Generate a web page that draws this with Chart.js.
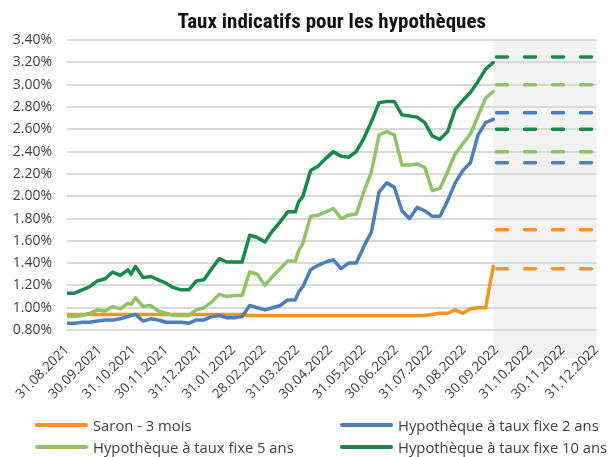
<!DOCTYPE html>
<html>
<head>
<meta charset="utf-8">
<script src="https://cdn.jsdelivr.net/npm/chart.js@4/dist/chart.umd.min.js"></script>
<style>
  html, body { margin: 0; padding: 0; background: #fff; }
  #wrap { position: relative; width: 612px; height: 457px; }
  #c { position: absolute; left: 0; top: 0; }
  #legend { position: absolute; left: 35px; top: 414px; display: grid; grid-template-columns: 305px auto; row-gap: 0px;
            font-family: 'Open Sans', 'Noto Sans', sans-serif; font-size: 14.8px; color: #404040; }
  #legend .item { display: flex; align-items: center; height: 22px; white-space: nowrap; }
  #legend .sw { display: inline-block; width: 53px; height: 4px; border-radius: 2px; margin-right: 5px; }
</style>
</head>
<body>
<div id="wrap">
  <canvas id="c" width="612" height="457"></canvas>
  <div id="legend"></div>
</div>
<script>
// ---- data ----
const chartTitle = "Taux indicatifs pour les hypothèques";
const dates = [
  "31.08.2021","07.09.2021","14.09.2021","21.09.2021","28.09.2021",
  "05.10.2021","12.10.2021","19.10.2021","26.10.2021","29.10.2021",
  "02.11.2021","09.11.2021","16.11.2021","23.11.2021","30.11.2021",
  "07.12.2021","14.12.2021","21.12.2021","28.12.2021",
  "04.01.2022","11.01.2022","18.01.2022","25.01.2022",
  "01.02.2022","08.02.2022","15.02.2022","22.02.2022",
  "01.03.2022","08.03.2022","15.03.2022","22.03.2022","29.03.2022","01.04.2022",
  "05.04.2022","12.04.2022","19.04.2022","26.04.2022",
  "03.05.2022","10.05.2022","17.05.2022","24.05.2022","31.05.2022",
  "07.06.2022","14.06.2022","21.06.2022","28.06.2022",
  "05.07.2022","12.07.2022","19.07.2022","26.07.2022",
  "02.08.2022","09.08.2022","16.08.2022","23.08.2022","30.08.2022",
  "06.09.2022","13.09.2022","20.09.2022","27.09.2022"
];
const saron = [
  0.94,0.94,0.94,0.94,0.94,
  0.94,0.94,0.94,0.94,0.94,
  0.94,0.94,0.94,0.94,0.94,
  0.94,0.94,0.94,0.94,
  0.94,0.94,0.94,0.94,
  0.94,0.94,0.93,0.93,
  0.93,0.93,0.93,0.93,0.93,0.93,
  0.93,0.93,0.93,0.93,
  0.93,0.93,0.93,0.93,0.93,
  0.93,0.93,0.93,0.93,
  0.93,0.93,0.93,0.93,
  0.94,0.95,0.95,0.98,0.95,
  0.99,1.00,1.00,1.37
];
const fixe2 = [
  0.86,0.86,0.87,0.87,0.88,
  0.89,0.89,0.90,0.92,0.93,
  0.94,0.88,0.90,0.89,0.87,
  0.87,0.87,0.86,0.89,
  0.89,0.92,0.93,0.91,
  0.91,0.92,1.02,1.00,
  0.98,1.00,1.02,1.07,1.07,1.14,
  1.19,1.34,1.38,1.41,
  1.43,1.35,1.40,1.40,1.55,
  1.68,2.04,2.12,2.08,
  1.87,1.80,1.90,1.87,
  1.82,1.82,1.96,2.12,2.23,
  2.30,2.55,2.66,2.69
];
const fixe5 = [
  0.92,0.92,0.93,0.95,0.98,
  0.97,1.01,0.99,1.04,1.03,
  1.09,1.01,1.02,0.97,0.95,
  0.93,0.93,0.93,0.98,
  1.00,1.05,1.12,1.10,
  1.11,1.11,1.32,1.30,
  1.20,1.28,1.35,1.42,1.42,1.51,
  1.58,1.82,1.83,1.86,
  1.89,1.80,1.83,1.84,2.04,
  2.22,2.55,2.58,2.55,
  2.28,2.28,2.29,2.26,
  2.05,2.07,2.22,2.38,2.47,
  2.56,2.72,2.88,2.94
];
const fixe10 = [
  1.13,1.13,1.16,1.19,1.24,
  1.26,1.32,1.29,1.34,1.30,
  1.37,1.27,1.28,1.25,1.22,
  1.18,1.16,1.16,1.24,
  1.25,1.35,1.44,1.41,
  1.41,1.41,1.65,1.63,
  1.59,1.69,1.77,1.86,1.86,1.95,
  2.00,2.23,2.27,2.34,
  2.40,2.36,2.35,2.40,2.52,
  2.67,2.84,2.85,2.85,
  2.73,2.72,2.71,2.66,
  2.54,2.51,2.58,2.78,2.86,
  2.93,3.03,3.14,3.20
];
// forecast ranges (low, high) from 30.09.2022 to 31.12.2022
const forecastDates = ["30.09.2022", "31.12.2022"];
const forecastSaron = [1.35, 1.70];
const forecastFixe2 = [2.30, 2.75];
const forecastFixe5 = [2.40, 3.00];
const forecastFixe10 = [2.60, 3.25];
const xTickLabels = ["31.08.2021","30.09.2021","31.10.2021","30.11.2021","31.12.2021","31.01.2022","28.02.2022",
  "31.03.2022","30.04.2022","31.05.2022","30.06.2022","31.07.2022","31.08.2022","30.09.2022","31.10.2022",
  "30.11.2022","31.12.2022"];
const yTicks = [0.80,1.00,1.20,1.40,1.60,1.80,2.00,2.20,2.40,2.60,2.80,3.00,3.20,3.40];
const seriesNames = ["Saron - 3 mois","Hypothèque à taux fixe 2 ans","Hypothèque à taux fixe 5 ans","Hypothèque à taux fixe 10 ans"];
const shadeStart = "27.09.2022";

// ---- helpers ----
function dayIndex(s) {
  const [d, m, y] = s.split('.').map(Number);
  return Math.round((Date.UTC(y, m - 1, d) - Date.UTC(2021, 7, 31)) / 86400000);
}
const colors = ['#F7931E', '#4C7EBB', '#8DC465', '#168A46'];
const seriesData = [saron, fixe2, fixe5, fixe10];
const forecasts = [forecastSaron, forecastFixe2, forecastFixe5, forecastFixe10];
const xLabelByDay = {};
xTickLabels.forEach(l => { xLabelByDay[dayIndex(l)] = l; });

const datasets = [];
seriesData.forEach((vals, i) => {
  datasets.push({
    label: seriesNames[i],
    data: vals.map((v, k) => ({ x: dayIndex(dates[k]), y: v })),
    borderColor: colors[i], backgroundColor: colors[i],
    borderWidth: 3.5, pointRadius: 0, tension: 0,
    borderJoinStyle: 'round', borderCapStyle: 'round', order: 4 - i
  });
});
forecasts.forEach((pair, i) => {
  pair.forEach(v => {
    datasets.push({
      label: seriesNames[i] + ' (prévision)',
      data: forecastDates.map(d => ({ x: dayIndex(d), y: v })),
      borderColor: colors[i], borderWidth: 3.5, pointRadius: 0,
      borderDash: [11, 17], borderCapStyle: 'round'
    });
  });
});

const shadePlugin = {
  id: 'forecastShade',
  beforeDraw(chart) {
    const { ctx, chartArea, scales } = chart;
    const x0 = scales.x.getPixelForValue(dayIndex(shadeStart));
    ctx.save();
    ctx.fillStyle = '#f2f2f2';
    ctx.fillRect(x0, chartArea.top - 1, chartArea.right - x0, chartArea.bottom + 28 - chartArea.top + 1);
    ctx.restore();
  }
};

new Chart(document.getElementById('c'), {
  type: 'line',
  data: { datasets },
  plugins: [shadePlugin],
  options: {
    responsive: false,
    animation: false,
    layout: { padding: { left: 0, right: 5, top: 0, bottom: 57 } },
    plugins: {
      legend: { display: false },
      tooltip: { enabled: false },
      title: {
        display: true, text: chartTitle, fullSize: false,
        color: '#111',
        font: { family: "'Liberation Sans Narrow', 'Roboto Condensed', Roboto, sans-serif", size: 21, weight: 'bold', lineHeight: 1.2 },
        padding: { top: 10, bottom: 5 }
      }
    },
    scales: {
      x: {
        type: 'linear',
        min: dayIndex(xTickLabels[0]),
        max: dayIndex(xTickLabels[xTickLabels.length - 1]),
        afterBuildTicks(scale) { scale.ticks = xTickLabels.map(l => ({ value: dayIndex(l) })); },
        afterFit(scale) { scale.height = 70; },
        grid: { display: false },
        border: { display: false },
        ticks: {
          autoSkip: false, minRotation: 45, maxRotation: 45, padding: 4,
          color: '#404040', font: { family: "'Open Sans', 'Noto Sans', sans-serif", size: 13.5 },
          callback: v => xLabelByDay[v] || ''
        }
      },
      y: {
        min: yTicks[0], max: yTicks[yTicks.length - 1],
        afterBuildTicks(scale) { scale.ticks = yTicks.map(v => ({ value: v })); },
        afterFit(scale) { scale.width = 67; },
        grid: { color: '#d9d9d9', lineWidth: 2, drawTicks: false },
        border: { display: false },
        ticks: {
          padding: 15, color: '#404040',
          font: { family: "'Open Sans', 'Noto Sans', sans-serif", size: 14 },
          callback: v => v.toFixed(2) + '%'
        }
      }
    }
  }
});

// legend (two columns)
const legend = document.getElementById('legend');
[0, 1, 2, 3].forEach(i => {
  const it = document.createElement('div');
  it.className = 'item';
  const sw = document.createElement('span');
  sw.className = 'sw';
  sw.style.background = colors[i];
  it.appendChild(sw);
  it.appendChild(document.createTextNode(seriesNames[i]));
  legend.appendChild(it);
});
</script>
</body>
</html>
